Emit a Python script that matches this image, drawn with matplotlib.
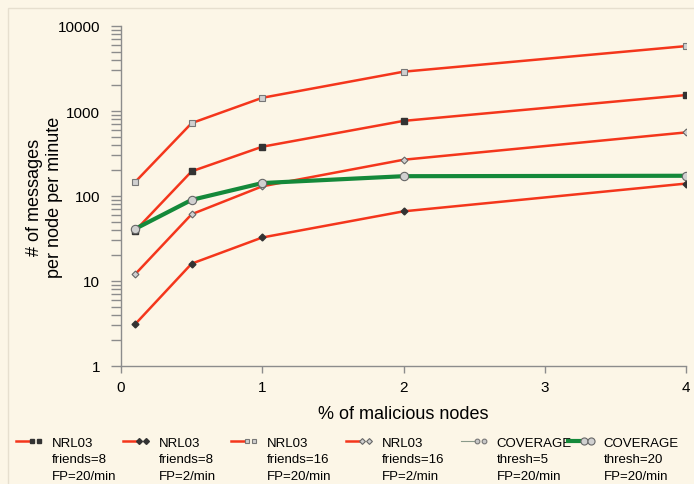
import numpy as np
import matplotlib
matplotlib.use('Agg')
import matplotlib.pyplot as plt
from matplotlib.legend_handler import HandlerLine2D
from matplotlib.lines import Line2D
from matplotlib.patches import Rectangle

plt.rcParams['font.family'] = ['Liberation Sans', 'DejaVu Sans']

# % of malicious nodes
pct = [0.1, 0.5, 1, 2, 4]

nrl_f8_fp20 = [39, 195, 380, 765, 1540]
nrl_f8_fp2 = [3.1, 16, 32.5, 66, 140]
nrl_f16_fp20 = [146, 720, 1430, 2900, 5800]
nrl_f16_fp2 = [12, 61, 130, 267, 560]
cov_t5_fp20 = []
cov_t20_fp20 = [41, 90, 142, 171, 173]

labels = ['NRL03\nfriends=8\nFP=20/min',
          'NRL03\nfriends=8\nFP=2/min',
          'NRL03\nfriends=16\nFP=20/min',
          'NRL03\nfriends=16\nFP=2/min',
          'COVERAGE\nthresh=5\nFP=20/min',
          'COVERAGE\nthresh=20\nFP=20/min']
# left edge of each legend entry, in pixels
legend_x = [16, 123, 231, 346, 461, 568]

bg = '#fcf6e7'
red = '#f4361c'
green = '#14893a'
axis_gray = '#8c8c8c'
leg_fs = 9.5
leg_spacing = 1.5
handle_shift = 13.5  # points, lifts the handle to the first text line


class TopRightMarkers(HandlerLine2D):
    '''line on the left, two markers packed at the right end, level with the first text line'''
    def create_artists(self, legend, orig_handle, xdescent, ydescent,
                       width, height, fontsize, trans):
        y = (height - ydescent) / 2 + handle_shift
        x0 = -xdescent
        line = Line2D([x0, x0 + width * 0.6], [y, y])
        self.update_prop(line, orig_handle, legend)
        line.set_marker('None')
        marks = Line2D([x0 + width * 0.7, x0 + width], [y, y])
        self.update_prop(marks, orig_handle, legend)
        marks.set_linestyle('None')
        marks.set_markersize(orig_handle.get_markersize() * 0.85)
        line.set_transform(trans)
        marks.set_transform(trans)
        return [line, marks]


fig = plt.figure(figsize=(6.94, 4.85), dpi=100, facecolor=bg)
fig.patches.append(Rectangle((8 / 694, -0.1), 1.2, 1 - 9 / 485 + 0.1,
                             transform=fig.transFigure, fill=False,
                             edgecolor='#e6dfcf', lw=1))
ax = fig.add_axes([121 / 694, 1 - 367 / 485, 565 / 694, 340 / 485])
ax.set_facecolor(bg)

h1, = ax.plot(pct, nrl_f8_fp20, color=red, lw=1.8, marker='s', ms=4,
              mfc='#333333', mec='#333333')
h2, = ax.plot(pct, nrl_f8_fp2, color=red, lw=1.8, marker='D', ms=3.5,
              mfc='#333333', mec='#333333')
h3, = ax.plot(pct, nrl_f16_fp20, color=red, lw=1.8, marker='s', ms=4,
              mfc='#d0d0d0', mec='#777777', mew=0.8)
h4, = ax.plot(pct, nrl_f16_fp2, color=red, lw=1.8, marker='D', ms=3.5,
              mfc='#d0d0d0', mec='#666666', mew=0.8)
h5, = ax.plot(pct[:len(cov_t5_fp20)], cov_t5_fp20, color='#8a9a8a', lw=0.8,
              marker='o', ms=4, mfc='#c8c8c8', mec='#777777', mew=0.8)
h6, = ax.plot(pct, cov_t20_fp20, color=green, lw=3, marker='o', ms=6,
              mfc='#d0d0d0', mec='#666666', mew=0.8)

ax.set_yscale('log')
ax.set_ylim(1, 10000)
ax.set_xlim(0, 4)
ax.set_xticks([0, 1, 2, 3, 4])
ax.set_yticks([1, 10, 100, 1000, 10000])
ax.set_yticklabels(['1', '10', '100', '1000', '10000'])

for side in ['top', 'right']:
    ax.spines[side].set_visible(False)
for side in ['left', 'bottom']:
    ax.spines[side].set_color(axis_gray)
    ax.spines[side].set_linewidth(1)

ax.tick_params(which='both', direction='out', color=axis_gray, width=1,
               labelsize=11, labelcolor='black')
ax.tick_params(axis='y', which='both', length=7, pad=8)
ax.tick_params(axis='x', which='both', length=5, pad=5)

ax.set_xlabel('% of malicious nodes', fontsize=13, labelpad=8)
ax.set_ylabel('# of messages\nper node per minute', fontsize=13)
ax.yaxis.set_label_coords(-0.103, 0.5)

handles = [h1, h2, h3, h4, h5, h6]
for h, lab, x in zip(handles, labels, legend_x):
    leg = fig.legend([h], [lab], loc='upper left',
                     bbox_to_anchor=(x / 694, 1 - 438 / 485),
                     frameon=False, fontsize=leg_fs, handlelength=1.75,
                     handletextpad=0.95, borderpad=0, borderaxespad=0,
                     handler_map={Line2D: TopRightMarkers()})
    for t in leg.get_texts():
        t.set_linespacing(leg_spacing)

fig.savefig('out.png', dpi=100, facecolor=bg)
